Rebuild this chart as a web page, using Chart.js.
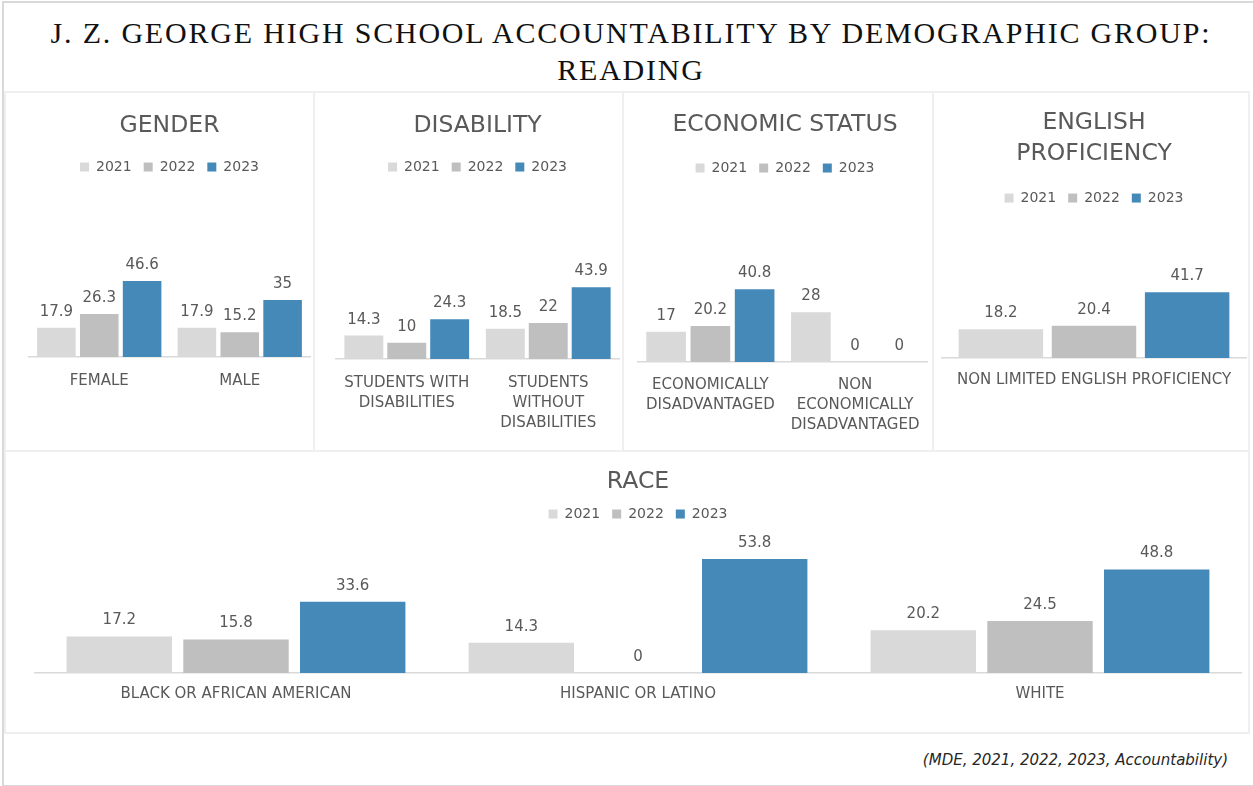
<!DOCTYPE html>
<html>
<head>
<meta charset="utf-8">
<script src="https://cdn.jsdelivr.net/npm/chart.js@4.4.1/dist/chart.umd.min.js"></script>
<style>
  html, body { margin: 0; padding: 0; background: #fff; }
  body { width: 1253px; height: 786px; position: relative; overflow: hidden; font-family: "DejaVu Sans", sans-serif; }
  .frame { position: absolute; left: 2px; top: 1px; width: 1270px; height: 782px; border: 2px solid #d9d9d9; }
  .panel { position: absolute; border: 2px solid #efefef; box-sizing: border-box; }
  .panel canvas { display: block; }
  #title { position: absolute; left: 0; top: 14px; width: 1262px; text-align: center;
           font-family: "Liberation Serif", serif; font-size: 30px; line-height: 37px; letter-spacing: 1.8px; color: #111; }
  #source { position: absolute; right: 25px; top: 751px; font-size: 15px; font-style: italic; color: #262626; }
</style>
</head>
<body>
<div class="frame"></div>
<div id="title">J. Z. GEORGE HIGH SCHOOL ACCOUNTABILITY BY DEMOGRAPHIC GROUP:<br>READING</div>

<div class="panel" style="left:4px;top:91px;width:311px;height:361px"><canvas id="gender" width="307" height="357"></canvas></div>
<div class="panel" style="left:313px;top:91px;width:311px;height:361px"><canvas id="disability" width="307" height="357"></canvas></div>
<div class="panel" style="left:622px;top:91px;width:312px;height:361px"><canvas id="economic" width="308" height="357"></canvas></div>
<div class="panel" style="left:932px;top:91px;width:318px;height:361px"><canvas id="english" width="314" height="357"></canvas></div>
<div class="panel" style="left:4px;top:450px;width:1246px;height:284px"><canvas id="race" width="1242" height="280"></canvas></div>

<div id="source">(MDE, 2021, 2022, 2023, Accountability)</div>

<script>
// years and colours
const years = ['2021', '2022', '2023'];
const yearColors = ['#d9d9d9', '#bfbfbf', '#4589b8'];

// gender
const genderLabels = ['FEMALE', 'MALE'];
const gender2021 = [17.9, 17.9];
const gender2022 = [26.3, 15.2];
const gender2023 = [46.6, 35];

// disability
const disabilityLabels = [['STUDENTS WITH', 'DISABILITIES'], ['STUDENTS', 'WITHOUT', 'DISABILITIES']];
const disability2021 = [14.3, 18.5];
const disability2022 = [10, 22];
const disability2023 = [24.3, 43.9];

// economic status
const economicLabels = [['ECONOMICALLY', 'DISADVANTAGED'], ['NON', 'ECONOMICALLY', 'DISADVANTAGED']];
const economic2021 = [17, 28];
const economic2022 = [20.2, 0];
const economic2023 = [40.8, 0];

// english proficiency
const englishLabels = ['NON LIMITED ENGLISH PROFICIENCY'];
const english2021 = [18.2];
const english2022 = [20.4];
const english2023 = [41.7];

// race
const raceLabels = ['BLACK OR AFRICAN AMERICAN', 'HISPANIC OR LATINO', 'WHITE'];
const race2021 = [17.2, 14.3, 20.2];
const race2022 = [15.8, 0, 24.5];
const race2023 = [33.6, 53.8, 48.8];

const textColor = '#595959';
const FONT = '"DejaVu Sans", sans-serif';

// draws the value above each bar
const valueLabels = {
    id: 'valueLabels',
    afterDatasetsDraw(chart) {
        const ctx = chart.ctx;
        ctx.save();
        ctx.font = '15px ' + FONT;
        ctx.fillStyle = textColor;
        ctx.textAlign = 'center';
        ctx.textBaseline = 'middle';
        chart.data.datasets.forEach((ds, i) => {
            chart.getDatasetMeta(i).data.forEach((bar, j) => {
                ctx.fillText(String(ds.data[j]), bar.x, bar.y - 16);
            });
        });
        ctx.restore();
    }
};

function makeChart(id, opts) {
    const canvas = document.getElementById(id);
    const H = canvas.height;
    const series = [opts.d2021, opts.d2022, opts.d2023];
    return new Chart(canvas, {
        type: 'bar',
        data: {
            labels: opts.labels,
            datasets: years.map((y, i) => ({
                label: y,
                data: series[i],
                backgroundColor: yearColors[i],
                categoryPercentage: opts.cat,
                barPercentage: opts.bar
            }))
        },
        options: {
            responsive: false,
            animation: false,
            layout: { padding: { left: opts.padL, right: opts.padR, top: 0, bottom: 0 } },
            plugins: {
                title: {
                    display: true,
                    text: opts.title,
                    color: textColor,
                    font: { family: FONT, size: 23.5, weight: 'normal', lineHeight: 1.32 },
                    padding: { top: opts.titleTop, bottom: opts.titleBottom }
                },
                legend: {
                    display: true,
                    position: 'top',
                    labels: {
                        color: textColor,
                        font: { family: FONT, size: 14 },
                        boxWidth: 9,
                        boxHeight: 9,
                        padding: 12
                    }
                },
                tooltip: { enabled: false }
            },
            scales: {
                x: {
                    grid: { display: true, drawOnChartArea: false, drawTicks: false },
                    border: { display: true, color: '#d9d9d9', width: 1.5 },
                    ticks: {
                        color: textColor,
                        font: { family: FONT, size: 15, lineHeight: 1.35 },
                        padding: opts.labelPad,
                        autoSkip: false,
                        maxRotation: 0,
                        minRotation: 0
                    },
                    afterFit: function (scale) { scale.height = H - opts.baseline; }
                },
                y: {
                    display: false,
                    min: 0,
                    max: opts.max
                }
            }
        },
        plugins: [valueLabels]
    });
}

makeChart('gender', {
    title: 'GENDER', labels: genderLabels,
    d2021: gender2021, d2022: gender2022, d2023: gender2023,
    cat: 0.915, bar: 0.9, padL: 23, padR: 3,
    titleTop: 17, titleBottom: 7, baseline: 264, max: 106, labelPad: 14
});

makeChart('disability', {
    title: 'DISABILITY', labels: disabilityLabels,
    d2021: disability2021, d2022: disability2022, d2023: disability2023,
    cat: 0.91, bar: 0.907, padL: 21, padR: 3,
    titleTop: 17, titleBottom: 7, baseline: 266, max: 107, labelPad: 13.5
});

makeChart('economic', {
    title: 'ECONOMIC STATUS', labels: economicLabels,
    d2021: economic2021, d2022: economic2022, d2023: economic2023,
    cat: 0.917, bar: 0.896, padL: 14, padR: 0,
    titleTop: 16, titleBottom: 9, baseline: 269, max: 99.4, labelPad: 12.5
});

makeChart('english', {
    title: ['ENGLISH', 'PROFICIENCY'], labels: englishLabels,
    d2021: english2021, d2022: english2022, d2023: english2023,
    cat: 0.919, bar: 0.907, padL: 8, padR: 2,
    titleTop: 14, titleBottom: 10, baseline: 265, max: 90.7, labelPad: 12
});

makeChart('race', {
    title: 'RACE', labels: raceLabels,
    d2021: race2021, d2022: race2022, d2023: race2023,
    cat: 0.871, bar: 0.903, padL: 29, padR: 7,
    titleTop: 14, titleBottom: -2, baseline: 221, max: 67, labelPad: 11
});
</script>
</body>
</html>
